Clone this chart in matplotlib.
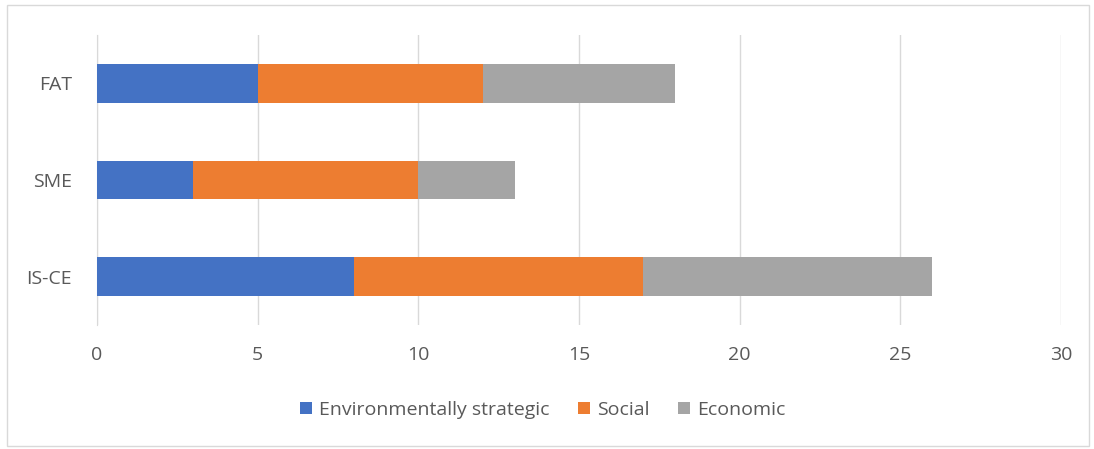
import matplotlib.pyplot as plt
from matplotlib.patches import Rectangle

plt.rcParams['font.family'] = ['Open Sans', 'DejaVu Sans']

categories = ["IS-CE", "SME", "FAT"]
environmental = [8, 3, 5]
social = [9, 7, 7]
economic = [9, 3, 6]
series_names = ["Environmentally strategic", "Social", "Economic"]
colors = ["#4472C4", "#ED7D31", "#A5A5A5"]

fig = plt.figure(figsize=(10.94, 4.49), dpi=100)
ax = fig.add_axes([97 / 1094, 1 - 325 / 449, (1061 - 97) / 1094, 290 / 449])

y = range(len(categories))
left = [0] * len(categories)
for vals, name, c in zip([environmental, social, economic], series_names, colors):
    ax.barh(y, vals, left=left, height=0.4, color=c, label=name, zorder=3)
    left = [l + v for l, v in zip(left, vals)]

ax.set_xlim(0, 30)
ax.set_ylim(-0.5, 2.5)
ax.set_xticks(range(0, 31, 5))
ax.set_yticks(list(y))
ax.set_yticklabels(categories)
ax.grid(axis="x", color="#D9D9D9", linewidth=1, zorder=0)
for s in ["top", "right", "bottom"]:
    ax.spines[s].set_visible(False)
ax.spines["left"].set_color("#D9D9D9")
ax.tick_params(length=0, labelsize=14, colors="#595959")
ax.tick_params(axis="x", pad=15)
ax.tick_params(axis="y", pad=18)

leg = fig.legend(loc="center", bbox_to_anchor=(0.496, 1 - 410 / 449), ncol=3,
                 frameon=False, fontsize=14, handlelength=0.6, handleheight=0.6,
                 handletextpad=0.35, columnspacing=1.5)
for t in leg.get_texts():
    t.set_color("#595959")

fig.patches.append(Rectangle((7 / 1094, 3 / 449), 1082 / 1094, 441 / 449,
                             transform=fig.transFigure, fill=False,
                             edgecolor="#D9D9D9", linewidth=1))

fig.savefig("out.png", dpi=100)
